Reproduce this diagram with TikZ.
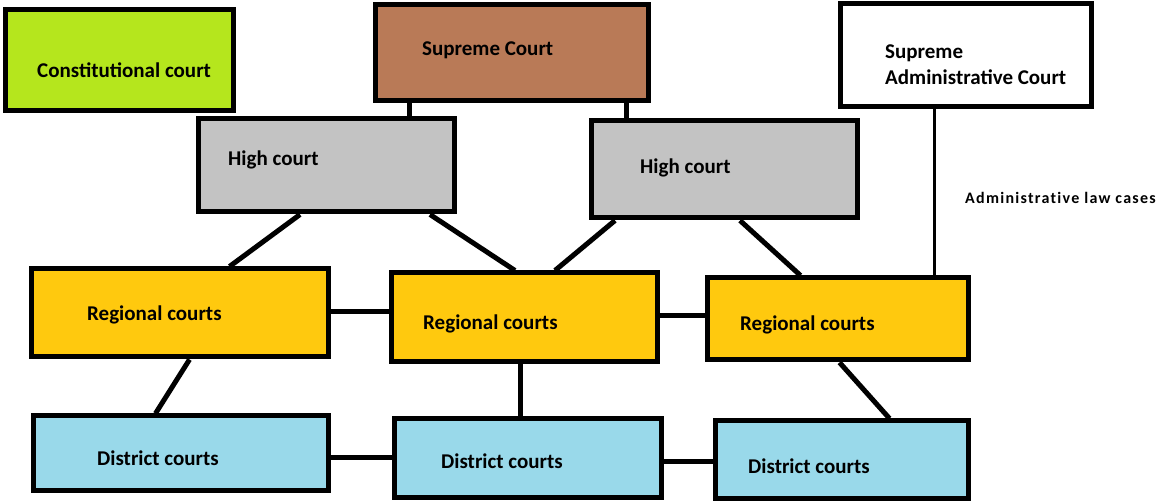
\documentclass[tikz,border=0pt]{standalone}
\usepackage{fontspec}
\setmainfont{Carlito}
\newfontfamily\notefont[LetterSpace=8,Ligatures=NoCommon]{Carlito}
\definecolor{constcol}{HTML}{B5E61D}
\definecolor{supcol}{HTML}{B97A57}
\definecolor{highcol}{HTML}{C3C3C3}
\definecolor{regcol}{HTML}{FFC90E}
\definecolor{discol}{HTML}{99D9EA}
\tikzset{
  courtbox/.style={draw=black,line width=5pt,inner sep=0pt},
  courtlabel/.style={anchor=west,inner sep=0pt,font=\fontsize{21}{26}\selectfont\bfseries},
  notelabel/.style={anchor=west,inner sep=0pt,font=\fontsize{16}{19}\selectfont\notefont\bfseries},
  link/.style={line width=5pt}
}

\begin{document}
\begin{tikzpicture}[x=1pt,y=-1pt]
\useasboundingbox (0,0) rectangle (1157,502);

% Top row
\node[courtbox,fill=constcol,minimum width=228pt,minimum height=101pt] (const) at (119,60.5) {};
\node[courtbox,fill=supcol,minimum width=273pt,minimum height=96pt] (sup) at (511.5,53) {};
\node[courtbox,fill=white,minimum width=251pt,minimum height=103pt] (sadm) at (965.5,55.5) {};

% High courts
\node[courtbox,fill=highcol,minimum width=256pt,minimum height=93pt] (hc1) at (326,165.5) {};
\node[courtbox,fill=highcol,minimum width=266pt,minimum height=97pt] (hc2) at (724,169.5) {};

% Regional courts
\node[courtbox,fill=regcol,minimum width=297pt,minimum height=88pt] (reg1) at (179.5,313) {};
\node[courtbox,fill=regcol,minimum width=266pt,minimum height=89pt] (reg2) at (524,317.5) {};
\node[courtbox,fill=regcol,minimum width=261pt,minimum height=82pt] (reg3) at (837.5,319) {};

% District courts
\node[courtbox,fill=discol,minimum width=295pt,minimum height=74pt] (dis1) at (180.5,453) {};
\node[courtbox,fill=discol,minimum width=267pt,minimum height=78pt] (dis2) at (527.5,458) {};
\node[courtbox,fill=discol,minimum width=253pt,minimum height=77pt] (dis3) at (841.5,459.5) {};

% Labels
\node[courtlabel] (consttxt) at (37,70) {Constitutional court};
\node[courtlabel] (suptxt) at (422,50) {Supreme Court};
\node[courtlabel,align=left] (sadmtxt) at (885,65) {Supreme\\Administrative Court};
\node[courtlabel] (hc1txt) at (228,160) {High court};
\node[courtlabel] (hc2txt) at (640,168) {High court};
\node[courtlabel] (reg1txt) at (87,315) {Regional courts};
\node[courtlabel] (reg2txt) at (423,324) {Regional courts};
\node[courtlabel] (reg3txt) at (740,325) {Regional courts};
\node[courtlabel] (dis1txt) at (97,458) {District courts};
\node[courtlabel] (dis2txt) at (441,461) {District courts};
\node[courtlabel] (dis3txt) at (748,466) {District courts};
\node[notelabel] (admtxt) at (965,198) {Administrative law cases};

% Supreme court to high courts
\draw[link] ([xshift=-102pt]sup.south) -- ([xshift=-102pt]sup.south |- hc1.north);
\draw[link] ([xshift=115pt]sup.south) -- ([xshift=115pt]sup.south |- hc2.north);

% High courts to regional courts
\draw[link] ([xshift=-26pt]hc1.south) -- ([xshift=50pt]reg1.north);
\draw[link] ([xshift=104pt]hc1.south) -- ([xshift=-9pt]reg2.north);
\draw[link] ([xshift=-109pt]hc2.south) -- ([xshift=31pt]reg2.north);
\draw[link] ([xshift=16pt]hc2.south) -- ([xshift=-37pt]reg3.north);

% Administrative line
\draw[line width=2.5pt] ([xshift=-31pt]sadm.south) -- ([xshift=-31pt]sadm.south |- reg3.north);

% Between regional courts
\draw[link] ([yshift=1pt]reg1.east) -- ([yshift=1pt]reg1.east -| reg2.west);
\draw[link] ([yshift=2pt]reg2.east) -- ([yshift=2pt]reg2.east -| reg3.west);

% Regional to district courts
\draw[link] ([xshift=10pt]reg1.south) -- ([xshift=-25pt]dis1.north);
\draw[link] ([xshift=-4pt]reg2.south) -- ([xshift=-4pt]reg2.south |- dis2.north);
\draw[link] ([xshift=2pt]reg3.south) -- ([xshift=48pt]dis3.north);

% Between district courts
\draw[link] ([yshift=-5pt]dis1.east) -- ([yshift=-5pt]dis1.east -| dis2.west);
\draw[link] ([yshift=-4pt]dis2.east) -- ([yshift=-4pt]dis2.east -| dis3.west);

\end{tikzpicture}
\end{document}
